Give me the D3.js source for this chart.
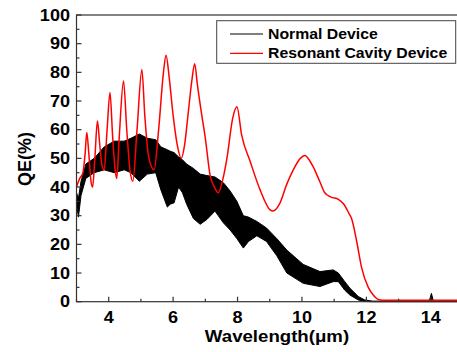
<!DOCTYPE html>
<html>
<head>
<meta charset="utf-8">
<script src="https://cdn.jsdelivr.net/npm/d3@7"></script>
<style>
  body { margin: 0; background: #fff; }
  svg { display: block; overflow: hidden; }
  text { font-family: "Liberation Sans", Arial, sans-serif; font-weight: bold; fill: #000; }
</style>
</head>
<body>
<div id="chart"></div>
<script>
// resonant cavity device (wavelength in um, QE in %)
const rcWave = [3.0, 3.1, 3.2, 3.27, 3.32, 3.38, 3.45, 3.5, 3.57, 3.65, 3.72, 3.8, 3.86, 3.95, 4.04, 4.12, 4.2, 4.25,
  4.33, 4.46, 4.56, 4.66, 4.75, 4.88, 5.03, 5.12, 5.25, 5.41, 5.55, 5.7, 5.78, 5.88, 6.0, 6.14, 6.25, 6.36, 6.47,
  6.58, 6.67, 6.75, 6.89, 7.0, 7.15, 7.28, 7.4, 7.55, 7.67, 7.85, 7.98, 8.13, 8.39, 8.7, 9.01, 9.1, 9.3, 9.53, 9.73,
  9.95, 10.09, 10.25, 10.35, 10.55, 10.71, 10.9, 11.13, 11.3, 11.45, 11.54, 11.7, 11.85, 12.06, 12.2, 12.37, 12.6,
  13.0, 14.0, 15.0]
const rcQE = [40, 43, 45, 52, 59, 52, 42, 40, 50, 63, 55, 47, 46, 60, 73, 58, 46, 43,
  58, 77, 60, 46, 42, 60, 81, 65, 50, 46, 60, 80, 86, 78, 65, 54, 50, 55, 66,
  77, 83, 76, 65, 57, 44, 40, 38, 43, 50, 64, 68, 58, 49, 39, 32, 31.6, 34, 41, 46,
  50, 51, 49, 47, 42, 38, 36.5, 35.7, 34, 31, 29, 21, 12, 5, 2.5, 0.8, 0.5,
  0.5, 0.5, 0.5]

// normal device: the fringes make a band, so keep its upper and lower edge
const nWave = [3.0, 3.06, 3.14, 3.29, 3.55, 3.86, 4.17, 4.48, 4.69, 4.95, 5.2, 5.46, 5.62, 5.82, 5.91, 6.03, 6.17,
  6.29, 6.42, 6.63, 6.84, 7.05, 7.3, 7.56, 7.77, 7.98, 8.18, 8.34, 8.6, 8.9, 9.22, 9.53, 10.04, 10.56, 10.97,
  11.13, 11.33, 11.49, 11.75, 11.95, 12.2, 13.95, 14.02, 14.08, 15.0]
const nUpper = [38, 36, 42, 48, 50, 54, 56, 56, 57, 58.5, 57, 56.5, 54, 53, 52.5, 52, 50.5,
  49.5, 48, 46.5, 44.5, 44, 43.5, 41.5, 38.6, 35, 30, 29.5, 28, 25.7, 22, 18, 13, 10.5, 11.1,
  10, 7, 4.7, 1.8, 0.6, 0.2, 0.2, 2.9, 0.2, 0.2]
const nLower = [34, 29.5, 37, 43, 45, 46, 45, 46, 45, 42, 44.5, 45, 39, 33, 34, 34.5, 40,
  38, 34, 29, 27, 28.7, 31.6, 27.5, 25, 22, 18.7, 21, 23, 21, 16, 10, 6.4, 5.3, 7,
  7, 4, 2.3, 0.6, 0.1, 0, 0, 0, 0, 0]

const xMajor = [4, 6, 8, 10, 12, 14]
const xMinor = [3, 5, 7, 9, 11, 13]
const yMajor = [0, 10, 20, 30, 40, 50, 60, 70, 80, 90, 100]
const yMinor = [5, 15, 25, 35, 45, 55, 65, 75, 85, 95]
const seriesNames = ["Normal Device", "Resonant Cavity Device"]
const seriesColors = ["#000000", "#ff0000"]

const w = 457
const h = 352
// picture is a bit wider than tall, so text is stretched a little
const sx = 1.13

const x = d3.scaleLinear().domain([3, 15]).range([76.5, 463])
const y = d3.scaleLinear().domain([0, 100]).range([301.7, 15])

const svg = d3.select("#chart").append("svg")
  .attr("width", w)
  .attr("height", h)

const txt = (sel, tx, ty, size, anchor, rot) => sel.append("text")
  .attr("transform", `translate(${tx},${ty})` + (rot ? ` rotate(${rot})` : "") + ` scale(${sx},1)`)
  .attr("text-anchor", anchor)
  .style("font-size", size + "px")

// normal device band
const band = d3.area()
  .x((d, i) => x(nWave[i]))
  .y0((d, i) => y(nLower[i]))
  .y1((d, i) => y(nUpper[i]))

svg.append("path")
  .datum(nWave)
  .attr("d", band)
  .attr("fill", "#000")
  .attr("stroke", "#000")
  .attr("stroke-width", 1)

// resonant cavity line on top
const line = d3.line()
  .x((d, i) => x(rcWave[i]))
  .y((d, i) => y(rcQE[i]))
  .curve(d3.curveMonotoneX)

svg.append("path")
  .datum(rcWave)
  .attr("d", line)
  .attr("fill", "none")
  .attr("stroke", "#ff0000")
  .attr("stroke-width", 1.5)

// frame
svg.append("rect")
  .attr("x", x(3)).attr("y", y(100))
  .attr("width", x(15) - x(3)).attr("height", y(0) - y(100))
  .attr("fill", "none").attr("stroke", "#333").attr("stroke-width", 1.2)

// ticks point inward
const xAxis = svg.append("g")
xAxis.selectAll(".maj").data(xMajor).enter().append("line")
  .attr("x1", d => x(d)).attr("x2", d => x(d))
  .attr("y1", y(0)).attr("y2", y(0) - 5)
  .attr("stroke", "#333").attr("stroke-width", 1.2)
xAxis.selectAll(".min").data(xMinor).enter().append("line")
  .attr("x1", d => x(d)).attr("x2", d => x(d))
  .attr("y1", y(0)).attr("y2", y(0) - 3)
  .attr("stroke", "#333").attr("stroke-width", 1.2)
xMajor.forEach(d => txt(svg, x(d), 323, 16, "middle").text(d))

const yAxis = svg.append("g")
yAxis.selectAll(".maj").data(yMajor).enter().append("line")
  .attr("x1", x(3)).attr("x2", x(3) + 5)
  .attr("y1", d => y(d)).attr("y2", d => y(d))
  .attr("stroke", "#333").attr("stroke-width", 1.2)
yAxis.selectAll(".min").data(yMinor).enter().append("line")
  .attr("x1", x(3)).attr("x2", x(3) + 3)
  .attr("y1", d => y(d)).attr("y2", d => y(d))
  .attr("stroke", "#333").attr("stroke-width", 1.2)
yMajor.forEach(d => txt(svg, 70, y(d) + 5.7, 16, "end").text(d))

// axis titles
txt(svg, 277, 341.5, 16.5, "middle").text("Wavelength(μm)")
svg.append("text")
  .attr("transform", "translate(31,159) rotate(-90)")
  .attr("text-anchor", "middle")
  .style("font-size", "18px")
  .text("QE(%)")

// legend
const legend = svg.append("g")
legend.append("rect")
  .attr("x", 216.7).attr("y", 20.7)
  .attr("width", 239).attr("height", 42.6)
  .attr("fill", "#fff").attr("stroke", "#444").attr("stroke-width", 1)

seriesNames.forEach((name, i) => {
  const ly = 34 + i * 19.3
  legend.append("line")
    .attr("x1", 230).attr("x2", 263)
    .attr("y1", ly).attr("y2", ly)
    .attr("stroke", seriesColors[i]).attr("stroke-width", 1.2)
  txt(legend, 268, ly + 5, 14, "start").text(name)
})
</script>
</body>
</html>
